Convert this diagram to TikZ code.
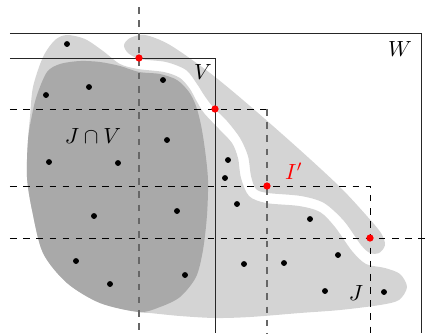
\documentclass[tikz,border=0pt]{standalone}
\usetikzlibrary{positioning}
\definecolor{jfill}{HTML}{D4D4D4}
\definecolor{jvfill}{HTML}{A9A9A9}

\begin{document}
\begin{tikzpicture}[x=0.016cm,y=-0.016cm,
    frame/.style={black!85,line width=0.45pt},
    hguide/.style={dashed,black,line width=0.45pt},
    vguide/.style={dashed,black!60,line width=0.65pt},
    dot/.style={circle,fill=black,inner sep=0pt,minimum size=2.7pt},
    hit/.style={circle,fill=red,inner sep=0pt,minimum size=3.3pt}]
  \useasboundingbox (0,0) rectangle (433,333);
  % the set J: upper strip and main part
  \fill[jfill] plot[smooth cycle] coordinates {(124,45) (130,38) (145,35)
    (170,45) (210,73) (250,106) (300,150) (340,187) (366,215) (381,233)
    (385,245) (379,253) (370,253) (361,245) (344,221) (324,203) (301,196)
    (268,193) (256,189) (251,176) (248,156) (240,138) (227,121) (213,107)
    (204,95) (197,84) (186,70) (166,62) (140,59) (128,53)};
  \fill[jfill] plot[smooth cycle] coordinates {(120,64) (138,69) (164,72)
    (180,78) (190,89) (196,100) (204,113) (219,129) (232,143) (238,158)
    (241,178) (249,196) (266,203) (299,206) (320,212) (335,227) (352,251)
    (366,264) (385,268) (400,274) (407,287) (399,300) (380,305) (340,310)
    (300,313) (250,317) (215,318) (180,316) (150,313) (139,312) (100,303)
    (67,283) (43,253) (32,210) (27,177) (28,140) (30,117) (33,87) (43,57)
    (55,40) (67,35) (85,39) (103,51)};
  % J cap V
  \fill[jvfill] plot[smooth cycle] coordinates {(47,72) (60,64) (80,61)
    (100,62) (120,66) (139,72) (160,74) (177,80) (189,92) (196,106)
    (201,125) (205,150) (208,180) (207,215) (203,250) (196,277) (180,297)
    (160,307) (139,312) (100,303) (67,283) (43,253) (32,210) (27,177)
    (28,140) (32,115) (37,95)};

  \coordinate (lft) at (10,0);
  \coordinate (rgt) at (427,0);
  \coordinate (top) at (0,7);
  \coordinate (bot) at (0,333);
  \coordinate (cW) at (421,33);
  \coordinate (cV) at (215,58);
  \coordinate (p1) at (139,58);
  \coordinate (p2) at (215,109);
  \coordinate (p3) at (267,186);
  \coordinate (p4) at (370,238);

  % W and V
  \draw[frame] (lft |- cW) -- (cW) -- (cW |- bot);
  \draw[frame] (lft |- cV) -- (cV) -- (cV |- bot);

  % staircase through the points of I'
  \draw[vguide] (p1 |- top) -- (p1 |- bot);
  \draw[hguide] (lft |- p2) -- (p3 |- p2);
  \draw[vguide] (p3 |- p2) -- (p3 |- bot);
  \draw[hguide] (lft |- p3) -- (p4 |- p3) -- (p4 |- bot);
  \draw[hguide] (lft |- p4) -- (rgt |- p4);

  \foreach \x/\y [count=\i] in {67/44, 89/87, 46/95, 163/80, 167/140,
      49/162, 118/163, 94/216, 177/211, 76/261, 110/284, 185/275, 228/160,
      225/178, 237/204, 310/219, 244/264, 284/263, 338/255, 325/291, 384/292}
    \node[dot] (d\i) at (\x,\y) {};
  \foreach \p in {p1,p2,p3,p4}
    \node[hit] (h\p) at (\p) {};

  \node (lV) at (203,72) {$V$};
  \node (lW) at (400,49) {$W$};
  \node (lJV) at (93,136) {$J\cap V$};
  \node (lJ) at (356,293) {$J$};
  \node[text=red] (lI) at (294,171) {$I'$};
\end{tikzpicture}
\end{document}
